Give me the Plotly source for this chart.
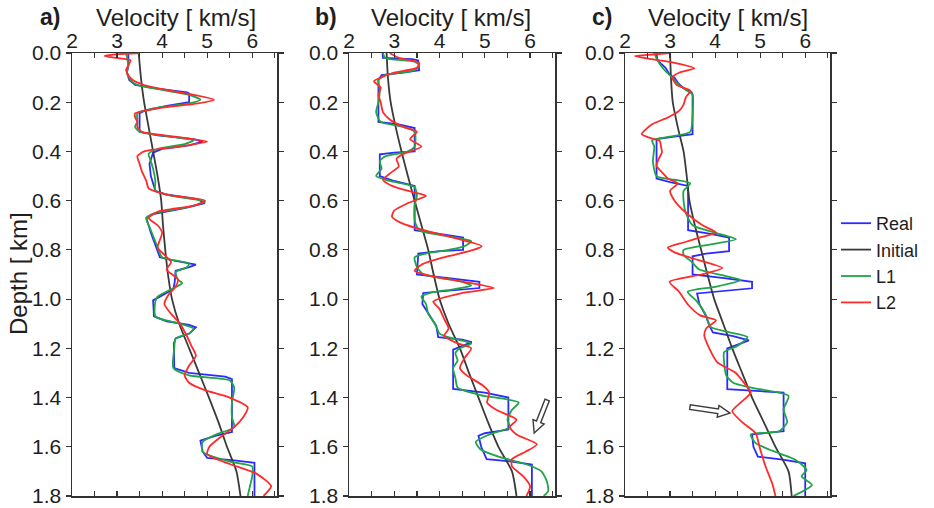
import math
import plotly.graph_objects as go

# ---------------- data (depth in km, velocity in km/s) ----------------
# Panel a
a_real_d = [0.00, 0.05, 0.08, 0.11, 0.13, 0.145, 0.16, 0.165, 0.20, 0.215, 0.235, 0.245, 0.32, 0.335, 0.35, 0.36, 0.375, 0.39, 0.405, 0.45, 0.50, 0.56, 0.575, 0.595, 0.61, 0.63, 0.655, 0.67, 0.73, 0.79, 0.83, 0.845, 0.86, 0.87, 0.885, 0.93, 0.96, 0.99, 1.005, 1.07, 1.09, 1.105, 1.115, 1.14, 1.16, 1.18, 1.28, 1.30, 1.315, 1.325, 1.54, 1.555, 1.575, 1.62, 1.645, 1.655, 1.665, 1.80]
a_real_v = [3.25, 3.25, 3.22, 3.27, 3.40, 3.9, 4.55, 4.6, 4.6, 4.1, 3.6, 3.5, 3.5, 3.9, 4.7, 4.9, 4.6, 4.0, 3.8, 3.72, 3.75, 3.85, 4.1, 4.8, 4.95, 4.5, 3.8, 3.65, 3.75, 3.88, 3.95, 4.3, 4.75, 4.6, 4.3, 4.28, 4.25, 3.95, 3.8, 3.82, 4.1, 4.6, 4.75, 4.6, 4.3, 4.26, 4.27, 4.6, 5.4, 5.55, 5.55, 5.2, 4.85, 4.9, 5.0, 5.6, 6.05, 6.05]
a_init_d = [0.0, 0.1, 0.2, 0.3, 0.4, 0.5, 0.6, 0.7, 0.8, 0.9, 1.0, 1.1, 1.2, 1.3, 1.4, 1.5, 1.6, 1.7, 1.8]
a_init_v = [3.48, 3.53, 3.6, 3.7, 3.8, 3.9, 3.98, 4.02, 4.07, 4.13, 4.22, 4.38, 4.6, 4.82, 5.04, 5.25, 5.44, 5.65, 5.74]
a_l1_d = [0.00, 0.05, 0.08, 0.11, 0.13, 0.15, 0.17, 0.19, 0.205, 0.225, 0.245, 0.28, 0.30, 0.32, 0.34, 0.355, 0.37, 0.39, 0.41, 0.44, 0.47, 0.52, 0.56, 0.58, 0.605, 0.625, 0.65, 0.67, 0.72, 0.78, 0.83, 0.855, 0.87, 0.89, 0.92, 0.935, 0.96, 0.99, 1.01, 1.07, 1.10, 1.12, 1.14, 1.16, 1.20, 1.28, 1.31, 1.33, 1.36, 1.42, 1.48, 1.52, 1.55, 1.58, 1.62, 1.66, 1.68, 1.72, 1.76, 1.80]
a_l1_v = [3.2, 3.25, 3.22, 3.3, 3.45, 4.0, 4.6, 4.85, 4.6, 3.8, 3.45, 3.45, 3.4, 3.5, 4.2, 4.7, 4.5, 3.9, 3.7, 3.75, 3.8, 3.85, 3.85, 4.2, 4.95, 4.6, 3.85, 3.65, 3.75, 3.88, 4.0, 4.6, 4.55, 4.3, 4.35, 4.45, 4.2, 3.9, 3.85, 3.85, 4.4, 4.7, 4.6, 4.3, 4.27, 4.25, 4.6, 5.5, 5.6, 5.55, 5.55, 5.6, 5.2, 4.9, 4.9, 5.5, 6.0, 6.0, 5.95, 5.9]
a_l2_d = [0.00, 0.005, 0.012, 0.02, 0.03, 0.05, 0.07, 0.09, 0.11, 0.13, 0.15, 0.17, 0.19, 0.205, 0.225, 0.245, 0.26, 0.28, 0.30, 0.32, 0.34, 0.36, 0.38, 0.40, 0.42, 0.45, 0.48, 0.52, 0.55, 0.575, 0.60, 0.62, 0.645, 0.67, 0.70, 0.73, 0.76, 0.79, 0.82, 0.85, 0.88, 0.92, 0.95, 0.98, 1.02, 1.06, 1.10, 1.15, 1.19, 1.23, 1.27, 1.31, 1.34, 1.37, 1.40, 1.44, 1.48, 1.52, 1.56, 1.60, 1.63, 1.67, 1.71, 1.76, 1.80]
a_l2_v = [3.5, 3.0, 2.72, 3.0, 3.3, 3.25, 3.2, 3.25, 3.35, 3.6, 4.1, 4.7, 5.15, 4.8, 3.9, 3.4, 3.4, 3.45, 3.45, 3.55, 4.3, 5.0, 4.4, 3.6, 3.45, 3.5, 3.55, 3.65, 3.7, 4.1, 4.95, 4.7, 3.9, 3.7, 3.9, 4.0, 3.95, 3.9, 4.05, 4.2, 4.1, 4.35, 4.3, 4.15, 4.05, 4.2, 4.4, 4.55, 4.65, 4.75, 4.6, 4.5, 4.6, 4.95, 5.5, 5.9, 5.8, 5.6, 5.3, 5.05, 5.0, 5.5, 6.1, 6.42, 6.25]

# Panel b
b_real_d = [0.00, 0.02, 0.025, 0.03, 0.07, 0.08, 0.09, 0.11, 0.28, 0.29, 0.305, 0.40, 0.405, 0.412, 0.50, 0.52, 0.54, 0.72, 0.735, 0.75, 0.80, 0.805, 0.815, 0.90, 0.915, 0.93, 0.955, 0.965, 0.975, 1.02, 1.11, 1.155, 1.165, 1.175, 1.19, 1.205, 1.365, 1.38, 1.40, 1.53, 1.545, 1.555, 1.60, 1.65, 1.66, 1.672, 1.80]
b_real_v = [2.74, 2.75, 3.4, 3.53, 3.55, 3.2, 2.72, 2.65, 2.65, 3.1, 3.45, 3.45, 3.0, 2.68, 2.68, 3.0, 3.45, 3.45, 4.0, 4.52, 4.52, 4.0, 3.53, 3.5, 4.2, 4.88, 4.88, 4.2, 3.64, 3.62, 3.93, 3.97, 4.5, 4.71, 4.5, 4.3, 4.3, 5.0, 5.52, 5.52, 5.0, 4.86, 4.92, 5.04, 5.6, 6.04, 6.04]
b_init_d = [0.0, 0.1, 0.2, 0.3, 0.4, 0.5, 0.6, 0.7, 0.8, 0.9, 1.0, 1.1, 1.2, 1.3, 1.4, 1.5, 1.6, 1.7, 1.8]
b_init_v = [2.83, 2.86, 2.92, 3.03, 3.16, 3.3, 3.45, 3.6, 3.75, 3.87, 4.0, 4.2, 4.45, 4.65, 4.86, 5.07, 5.3, 5.6, 5.7]
b_l1_d = [0.00, 0.02, 0.035, 0.05, 0.07, 0.09, 0.11, 0.15, 0.20, 0.24, 0.28, 0.30, 0.32, 0.38, 0.40, 0.42, 0.44, 0.47, 0.50, 0.52, 0.545, 0.58, 0.62, 0.68, 0.72, 0.745, 0.765, 0.785, 0.80, 0.815, 0.83, 0.87, 0.90, 0.925, 0.945, 0.96, 0.975, 0.99, 1.02, 1.06, 1.10, 1.14, 1.16, 1.18, 1.20, 1.22, 1.25, 1.28, 1.32, 1.36, 1.39, 1.42, 1.45, 1.49, 1.52, 1.55, 1.58, 1.61, 1.64, 1.67, 1.70, 1.74, 1.78, 1.80]
b_l1_v = [2.75, 2.8, 3.45, 3.55, 3.45, 2.8, 2.65, 2.68, 2.65, 2.6, 2.7, 3.2, 3.45, 3.45, 3.3, 2.8, 2.68, 2.72, 2.6, 2.9, 3.45, 3.5, 3.45, 3.45, 3.55, 4.2, 4.7, 4.55, 4.2, 3.7, 3.45, 3.5, 3.65, 4.4, 4.7, 4.3, 3.8, 3.6, 3.7, 3.75, 3.9, 4.0, 4.3, 4.7, 4.45, 4.35, 4.4, 4.3, 4.35, 4.4, 4.9, 5.75, 5.6, 5.5, 5.55, 5.1, 4.8, 4.9, 5.3, 5.9, 6.25, 6.37, 6.4, 6.3]
b_l2_d = [0.00, 0.02, 0.04, 0.06, 0.08, 0.10, 0.115, 0.14, 0.17, 0.20, 0.24, 0.27, 0.30, 0.32, 0.35, 0.38, 0.41, 0.43, 0.46, 0.49, 0.515, 0.54, 0.565, 0.58, 0.61, 0.64, 0.665, 0.69, 0.72, 0.75, 0.785, 0.80, 0.83, 0.86, 0.885, 0.91, 0.935, 0.955, 0.975, 1.01, 1.04, 1.08, 1.12, 1.15, 1.18, 1.20, 1.24, 1.28, 1.31, 1.35, 1.38, 1.42, 1.45, 1.49, 1.52, 1.55, 1.59, 1.62, 1.65, 1.68, 1.72, 1.76, 1.80]
b_l2_v = [2.9, 3.1, 3.55, 3.5, 3.0, 2.7, 2.55, 2.7, 2.65, 2.7, 2.75, 2.9, 3.2, 3.5, 3.35, 3.6, 3.2, 3.05, 3.1, 2.9, 2.75, 2.95, 3.4, 3.7, 3.3, 3.0, 2.95, 3.15, 3.65, 4.3, 4.93, 4.75, 4.1, 3.6, 3.45, 3.9, 4.7, 5.2, 4.5, 3.86, 4.0, 4.1, 4.2, 4.1, 4.4, 4.7, 4.55, 4.45, 4.6, 4.95, 5.1, 5.05, 5.25, 5.7, 5.55, 5.7, 6.15, 5.9, 5.6, 5.6, 5.85, 6.0, 5.92]

# Panel c
c_real_d = [0.00, 0.03, 0.06, 0.09, 0.10, 0.12, 0.14, 0.16, 0.17, 0.33, 0.34, 0.35, 0.51, 0.525, 0.54, 0.72, 0.735, 0.75, 0.805, 0.815, 0.826, 0.90, 0.915, 0.93, 0.956, 0.966, 0.977, 1.02, 1.07, 1.107, 1.135, 1.15, 1.168, 1.185, 1.20, 1.366, 1.375, 1.38, 1.537, 1.545, 1.55, 1.60, 1.64, 1.652, 1.667, 1.80]
c_real_v = [2.7, 2.72, 2.9, 3.0, 3.1, 3.17, 3.28, 3.48, 3.5, 3.5, 3.1, 2.7, 2.7, 3.0, 3.4, 3.4, 3.9, 4.31, 4.31, 3.8, 3.5, 3.5, 4.2, 4.82, 4.82, 4.2, 3.6, 3.65, 3.8, 3.87, 3.95, 4.4, 4.75, 4.5, 4.27, 4.27, 5.0, 5.52, 5.52, 5.0, 4.82, 4.85, 4.95, 5.5, 6.0, 6.0]
c_init_d = [0.0, 0.1, 0.2, 0.3, 0.4, 0.5, 0.6, 0.7, 0.8, 0.9, 1.0, 1.1, 1.2, 1.3, 1.4, 1.5, 1.6, 1.7, 1.8]
c_init_v = [3.0, 3.02, 3.06, 3.17, 3.3, 3.37, 3.43, 3.55, 3.69, 3.83, 3.98, 4.18, 4.38, 4.6, 4.82, 5.08, 5.34, 5.63, 5.7]
c_l1_d = [0.00, 0.03, 0.07, 0.10, 0.13, 0.15, 0.17, 0.25, 0.32, 0.34, 0.355, 0.38, 0.44, 0.50, 0.515, 0.53, 0.56, 0.60, 0.65, 0.70, 0.73, 0.757, 0.775, 0.80, 0.82, 0.847, 0.88, 0.905, 0.922, 0.95, 0.97, 1.01, 1.066, 1.113, 1.134, 1.154, 1.19, 1.216, 1.257, 1.311, 1.34, 1.36, 1.393, 1.448, 1.50, 1.537, 1.55, 1.585, 1.626, 1.653, 1.694, 1.72, 1.755, 1.80]
c_l1_v = [2.65, 2.72, 2.88, 3.05, 3.2, 3.35, 3.5, 3.5, 3.45, 3.0, 2.6, 2.65, 2.62, 2.7, 3.1, 3.45, 3.3, 3.3, 3.35, 3.5, 4.0, 4.46, 4.0, 3.3, 3.3, 3.47, 3.65, 4.2, 4.57, 4.0, 3.39, 3.6, 3.8, 3.9, 4.3, 4.72, 4.5, 4.2, 4.2, 4.25, 4.4, 4.8, 5.63, 5.52, 5.6, 5.42, 4.79, 4.9, 5.41, 5.78, 6.03, 5.92, 6.15, 5.74]
c_l2_d = [0.00, 0.006, 0.012, 0.025, 0.04, 0.062, 0.08, 0.10, 0.13, 0.153, 0.18, 0.21, 0.235, 0.262, 0.29, 0.33, 0.345, 0.357, 0.38, 0.404, 0.43, 0.458, 0.49, 0.51, 0.53, 0.56, 0.60, 0.65, 0.70, 0.73, 0.75, 0.77, 0.79, 0.81, 0.833, 0.874, 0.90, 0.93, 0.97, 1.025, 1.066, 1.086, 1.12, 1.148, 1.20, 1.257, 1.30, 1.34, 1.38, 1.42, 1.455, 1.50, 1.545, 1.61, 1.68, 1.75, 1.80]
c_l2_v = [3.0, 2.6, 2.22, 2.6, 3.1, 3.54, 3.2, 3.05, 3.15, 3.45, 3.35, 3.3, 3.2, 2.95, 2.6, 2.37, 2.55, 2.77, 2.8, 2.82, 2.75, 2.7, 2.85, 2.95, 3.17, 3.0, 3.1, 3.36, 3.72, 4.02, 3.65, 3.3, 2.95, 3.1, 3.47, 4.16, 3.7, 2.99, 3.2, 3.41, 3.67, 4.02, 3.8, 3.76, 3.87, 4.05, 4.46, 4.64, 4.79, 4.57, 4.38, 4.6, 4.9, 5.0, 5.12, 5.27, 5.34]

panel_labels = ["a)", "b)", "c)"]
axis_title = "Velocity [ km/s]"
series_names = ["Real", "Initial", "L1", "L2"]
x_ticks = [2, 3, 4, 5, 6]
y_ticks = [0.0, 0.2, 0.4, 0.6, 0.8, 1.0, 1.2, 1.4, 1.6, 1.8]

# arrow tips (velocity, depth) in panels b and c
arrow_b_tip = (6.09, 1.544)
arrow_c_tip = (4.33, 1.463)

panels = [
    [(a_real_d, a_real_v), (a_init_d, a_init_v), (a_l1_d, a_l1_v), (a_l2_d, a_l2_v)],
    [(b_real_d, b_real_v), (b_init_d, b_init_v), (b_l1_d, b_l1_v), (b_l2_d, b_l2_v)],
    [(c_real_d, c_real_v), (c_init_d, c_init_v), (c_l1_d, c_l1_v), (c_l2_d, c_l2_v)],
]

# ---------------- styling ----------------
W, H = 934, 508
colors = ["#2b2bff", "#3a3a3a", "#1fa547", "#ff2a2a"]
shapes_line = ["linear", "spline", "spline", "spline"]
FONT = "Liberation Sans, Arial, sans-serif"
TXT = "#1e1e1e"
x_px = [(72, 277), (349, 555), (625, 830)]
y_top, y_bot = 53, 496

fig = go.Figure()
for p, series in enumerate(panels):
    xa = "x" if p == 0 else f"x{p+1}"
    ya = "y" if p == 0 else f"y{p+1}"
    for s, (d, v) in enumerate(series):
        fig.add_trace(go.Scatter(
            x=v, y=d, mode="lines", name=series_names[s],
            line=dict(color=colors[s], width=1.8, shape=shapes_line[s], smoothing=0.6),
            xaxis=xa, yaxis=ya, showlegend=(p == 0), legendrank=s + 1,
        ))

layout = dict(
    width=W, height=H, margin=dict(l=0, r=0, t=0, b=0, autoexpand=False),
    paper_bgcolor="white", plot_bgcolor="white", hovermode=False,
    font=dict(family=FONT, color=TXT, size=21),
    legend=dict(x=836 / W, y=1 - 205 / H, xanchor="left", yanchor="top",
                font=dict(size=18, family=FONT, color=TXT), itemwidth=30,
                tracegroupgap=0, bgcolor="rgba(0,0,0,0)", traceorder="normal"),
)
for p in range(3):
    sx = "" if p == 0 else str(p + 1)
    x0, x1 = x_px[p]
    layout[f"xaxis{sx}"] = dict(
        domain=[x0 / W, x1 / W], range=[2, 6.55], side="top", automargin=False,
        tickvals=x_ticks, ticks="inside", ticklen=5, tickwidth=1.2, tickcolor="#333",
        minor=dict(dtick=0.5, tick0=2, ticks="inside", ticklen=5, tickwidth=1.2, tickcolor="#333"),
        showline=True, linecolor="#333", linewidth=1.5, mirror="ticks",
        showgrid=False, zeroline=False, anchor=f"y{sx}", ticklabelstandoff=-5,
        tickfont=dict(size=21, family=FONT, color=TXT),
    )
    layout[f"yaxis{sx}"] = dict(
        domain=[1 - y_bot / H, 1 - y_top / H], range=[1.8, 0], automargin=False,
        tickvals=y_ticks, tickformat=".1f", ticks="outside", ticklen=5, tickwidth=1.2,
        tickcolor="#333", showline=True, linecolor="#333", linewidth=1.5, mirror="ticks",
        showgrid=False, zeroline=False, anchor=f"x{sx}",
        tickfont=dict(size=21, family=FONT, color=TXT),
    )
fig.update_layout(**layout)

# titles
label_x = [50, 326, 602]
title_x = [176, 451, 728]
for p in range(3):
    fig.add_annotation(x=label_x[p] / W, y=1 - 17 / H, xref="paper", yref="paper",
                       xanchor="center", yanchor="middle",
                       text=f"<b>{panel_labels[p]}</b>", showarrow=False,
                       font=dict(size=23, family=FONT, color=TXT))
    fig.add_annotation(x=title_x[p] / W, y=1 - 17 / H, xref="paper", yref="paper",
                       xanchor="center", yanchor="middle",
                       text=axis_title, showarrow=False,
                       font=dict(size=24, family=FONT, color=TXT))
fig.add_annotation(x=18 / W, y=1 - 274 / H, xref="paper", yref="paper",
                   xanchor="center", yanchor="middle",
                   text="Depth [ km]", textangle=-90, showarrow=False,
                   font=dict(size=24, family=FONT, color=TXT))


# hollow block arrows (outline drawn in pixels relative to the tip)
def block_arrow_path(tail_dx, tail_dy, head_len=12, head_hw=6, shaft_hw=2.3):
    # tail offset given in screen pixels (x right, y down) relative to the tip
    L = math.hypot(tail_dx, tail_dy)
    ux, uy = -tail_dx / L, -tail_dy / L      # unit vector tail -> tip
    nx, ny = -uy, ux
    bx, by = -ux * head_len, -uy * head_len  # head base center
    tx, ty = tail_dx, tail_dy
    pts = [
        (0, 0),
        (bx + nx * head_hw, by + ny * head_hw),
        (bx + nx * shaft_hw, by + ny * shaft_hw),
        (tx + nx * shaft_hw, ty + ny * shaft_hw),
        (tx - nx * shaft_hw, ty - ny * shaft_hw),
        (bx - nx * shaft_hw, by - ny * shaft_hw),
        (bx - nx * head_hw, by - ny * head_hw),
    ]
    # plotly pixel-size shapes: y grows upward
    return "M " + " L ".join(f"{px:.2f},{-py:.2f}" for px, py in pts) + " Z"


for tip, ref, tail in [(arrow_b_tip, "2", (13, -33)), (arrow_c_tip, "3", (-40, -6))]:
    fig.add_shape(type="path", xref=f"x{ref}", yref=f"y{ref}",
                  xsizemode="pixel", ysizemode="pixel",
                  xanchor=tip[0], yanchor=tip[1],
                  path=block_arrow_path(*tail),
                  line=dict(color="#3c3c3c", width=1.4), fillcolor="white")

fig.write_html("out.html", post_script="document.body.style.margin='0px';",
               config={"displayModeBar": False, "staticPlot": True})
